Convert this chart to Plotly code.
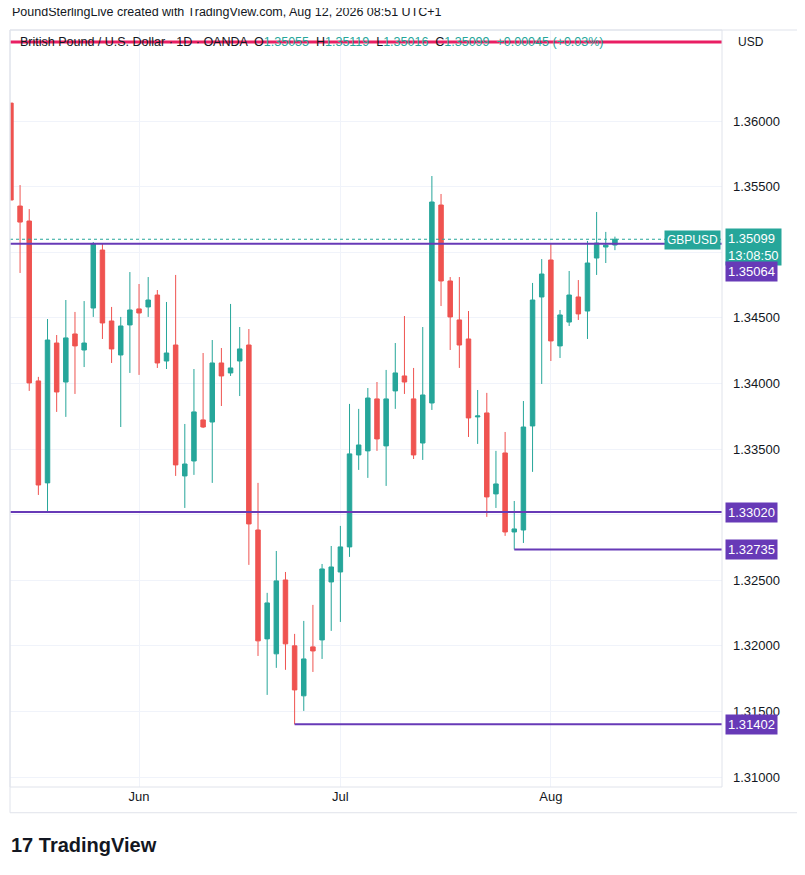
import pandas as pd
import plotly.graph_objects as go

# GBP/USD daily candles, 12 May - 12 Aug 2026 (weekdays)
dates = [d.strftime("%Y-%m-%d") for d in pd.bdate_range("2026-05-12", "2026-08-12")]

opens = [1.36137, 1.35352, 1.35238, 1.34019, 1.33242, 1.34308, 1.34011, 1.34377, 1.34255, 1.34575,
         1.35017, 1.34476, 1.34217, 1.34446, 1.34568, 1.34583, 1.34674, 1.34171, 1.34293, 1.33295,
         1.33409, 1.33722, 1.33706, 1.34156, 1.34080, 1.34171, 1.34293, 1.32883, 1.32053, 1.31939,
         1.32502, 1.32000, 1.31619, 1.31992, 1.32045, 1.32487, 1.32563, 1.32754, 1.33455, 1.33486,
         1.33882, 1.33524, 1.33943, 1.34057, 1.33882, 1.33546, 1.33851, 1.35360, 1.34781, 1.34484,
         1.34339, 1.33745, 1.33775, 1.33158, 1.33470, 1.32868, 1.32883, 1.33676, 1.34659, 1.34941,
         1.34286, 1.34468, 1.34659, 1.34552, 1.34956, 1.35040, 1.35055]
highs = [1.36137, 1.35512, 1.35329, 1.34050, 1.34491, 1.34369, 1.34636, 1.34545, 1.34628, 1.35078,
         1.35063, 1.34583, 1.34507, 1.34849, 1.34758, 1.34811, 1.34712, 1.34621, 1.34827, 1.33691,
         1.34110, 1.34232, 1.34331, 1.34270, 1.34606, 1.34430, 1.34415, 1.33242, 1.32404, 1.32723,
         1.32563, 1.32091, 1.32190, 1.32312, 1.32624, 1.32761, 1.32914, 1.33844, 1.33806, 1.33965,
         1.34011, 1.34103, 1.34308, 1.34514, 1.34118, 1.34430, 1.35581, 1.35444, 1.34811, 1.34811,
         1.34552, 1.33950, 1.33928, 1.33486, 1.33630, 1.33104, 1.33866, 1.34766, 1.34948, 1.35063,
         1.34560, 1.34857, 1.34788, 1.35086, 1.35307, 1.35155, 1.35119]
lows = [1.35398, 1.34842, 1.33943, 1.33150, 1.33021, 1.33783, 1.33745, 1.33920, 1.34125, 1.34507,
        1.34339, 1.34156, 1.33668, 1.34080, 1.34065, 1.34507, 1.34118, 1.34110, 1.33295, 1.33051,
        1.33303, 1.33660, 1.33242, 1.33828, 1.34057, 1.33904, 1.32617, 1.31923, 1.31626, 1.31832,
        1.31817, 1.31402, 1.31504, 1.31801, 1.31900, 1.32114, 1.32182, 1.32678, 1.33341, 1.33280,
        1.33486, 1.33219, 1.33806, 1.33920, 1.33424, 1.33417, 1.33798, 1.34590, 1.34255, 1.34118,
        1.33592, 1.33539, 1.32983, 1.33051, 1.32838, 1.32735, 1.32784, 1.33326, 1.33996, 1.34171,
        1.34194, 1.34438, 1.34484, 1.34339, 1.34827, 1.34918, 1.35016]
closes = [1.35398, 1.35230, 1.34004, 1.33226, 1.34331, 1.33935, 1.34347, 1.34286, 1.34308, 1.35063,
          1.34461, 1.34263, 1.34438, 1.34560, 1.34537, 1.34636, 1.34156, 1.34232, 1.33379, 1.33386,
          1.33783, 1.33668, 1.34156, 1.34057, 1.34118, 1.34263, 1.32929, 1.32038, 1.32327, 1.32495,
          1.32015, 1.31664, 1.31900, 1.31961, 1.32586, 1.32601, 1.32754, 1.33463, 1.33531, 1.33889,
          1.33577, 1.33882, 1.34080, 1.34011, 1.33455, 1.33912, 1.35383, 1.34781, 1.34507, 1.34293,
          1.33737, 1.33752, 1.33135, 1.33234, 1.32868, 1.32891, 1.33668, 1.34636, 1.34834, 1.34324,
          1.34522, 1.34674, 1.34530, 1.34918, 1.35070, 1.35054, 1.35099]

tick_dates = ["2026-06-01", "2026-07-01", "2026-08-03"]
tick_labels = ["Jun", "Jul", "Aug"]
price_ticks = [1.31, 1.315, 1.32, 1.325, 1.33, 1.335, 1.34, 1.345, 1.35, 1.355, 1.36]

# user-drawn levels: (price, start index or None for full width)
levels = [(1.35064, None), (1.33020, None), (1.32735, 55), (1.31402, 31)]
last_price = 1.35099
top_line = 1.36602

GREEN = "#26a69a"
RED = "#ef5350"
PURPLE = "#673ab7"
FONT = "Liberation Sans"

fig = go.Figure(go.Candlestick(
    x=dates, open=opens, high=highs, low=lows, close=closes,
    increasing=dict(line=dict(color=GREEN, width=1), fillcolor=GREEN),
    decreasing=dict(line=dict(color=RED, width=1), fillcolor=RED),
    whiskerwidth=0, showlegend=False, hoverinfo="skip",
))

shapes = []
for price, start in levels:
    if start is None:
        shapes.append(dict(type="line", xref="paper", yref="y", x0=0, x1=1, y0=price, y1=price,
                           line=dict(color=PURPLE, width=2)))
    else:
        shapes.append(dict(type="line", xref="x", yref="y", x0=start, x1=80, y0=price, y1=price,
                           line=dict(color=PURPLE, width=2)))
shapes.append(dict(type="line", xref="paper", yref="y", x0=0, x1=1, y0=last_price, y1=last_price,
                   line=dict(color=GREEN, width=1, dash="dot")))
shapes.append(dict(type="line", xref="paper", yref="y", x0=0, x1=1, y0=top_line, y1=top_line,
                   line=dict(color="#e91e63", width=3)))
# panel frames
frame = "#e0e3eb"
shapes += [
    dict(type="rect", xref="paper", yref="paper", x0=0, x1=1, y0=0, y1=1, line=dict(color=frame, width=1)),
    dict(type="rect", xref="paper", yref="paper", x0=0, x1=1.108, y0=-0.034, y1=1,
         line=dict(color=frame, width=1)),
]

annotations = [
    dict(text="PoundSterlingLive created with TradingView.com, Aug 12, 2026 08:51 UTC+1",
         xref="paper", yref="paper", x=0, y=1.024, xanchor="left", yanchor="middle",
         showarrow=False, font=dict(size=12.5, color="#131722", family=FONT)),
    dict(text="British Pound / U.S. Dollar · 1D · OANDA  O<span style='color:#26a69a'>1.35055</span>"
              "  H<span style='color:#26a69a'>1.35119</span>  L<span style='color:#26a69a'>1.35016</span>"
              "  C<span style='color:#26a69a'>1.35099</span>  <span style='color:#26a69a'>+0.00045 (+0.03%)</span>",
         xref="paper", yref="paper", x=0.011, y=0.984, xanchor="left", yanchor="middle",
         showarrow=False, font=dict(size=12.5, color="#131722", family=FONT)),
    dict(text="USD", xref="paper", yref="paper", x=1.02, y=0.984, xanchor="left", yanchor="middle",
         showarrow=False, font=dict(size=12, color="#131722", family=FONT)),
    dict(text="<b>17 TradingView</b>", xref="paper", yref="paper", x=-0.002, y=-0.076,
         xanchor="left", yanchor="middle", showarrow=False,
         font=dict(size=20, color="#131722", family=FONT)),
    dict(text="GBPUSD", xref="paper", yref="y", x=0.998, y=1.35093, xanchor="right",
         yanchor="middle", showarrow=False, bgcolor=GREEN, borderpad=2,
         font=dict(size=12, color="white", family=FONT)),
    dict(text="1.35099<br>13:08:50", xref="paper", yref="y", x=1.004, y=1.35040,
         xanchor="left", yanchor="middle", showarrow=False, bgcolor=GREEN, borderpad=2, align="left",
         font=dict(size=13, color="white", family=FONT)),
]
label_pos = {1.35064: 1.34857}
for price, start in levels:
    annotations.append(dict(text=f"{price:.5f}", xref="paper", yref="y", x=1.004,
                            y=label_pos.get(price, price), xanchor="left",
                            yanchor="middle", showarrow=False, bgcolor=PURPLE, borderpad=2,
                            font=dict(size=13, color="white", family=FONT)))

# page body adds an 8px offset, so the figure is 8px smaller and margins shifted
fig.update_layout(
    width=797, height=867,
    margin=dict(l=2, r=83, t=22, b=88),
    paper_bgcolor="white", plot_bgcolor="white",
    font=dict(family=FONT, size=12, color="#131722"),
    shapes=shapes, annotations=annotations,
    xaxis=dict(type="category", range=[-0.1, 77.7], rangeslider=dict(visible=False),
               tickvals=tick_dates, ticktext=tick_labels, showgrid=True, gridcolor="#f0f3fa",
               ticks="", tickfont=dict(size=13), showline=False, zeroline=False),
    yaxis=dict(side="right", range=[1.30924, 1.36694], tickvals=price_ticks,
               ticktext=["" if p in (1.35, 1.33) else f"{p:.5f}" for p in price_ticks],
               showgrid=True, gridcolor="#f0f3fa", ticks="", tickfont=dict(size=13),
               ticklabelstandoff=10, zeroline=False, showline=False),
)

fig.write_html("out.html")
